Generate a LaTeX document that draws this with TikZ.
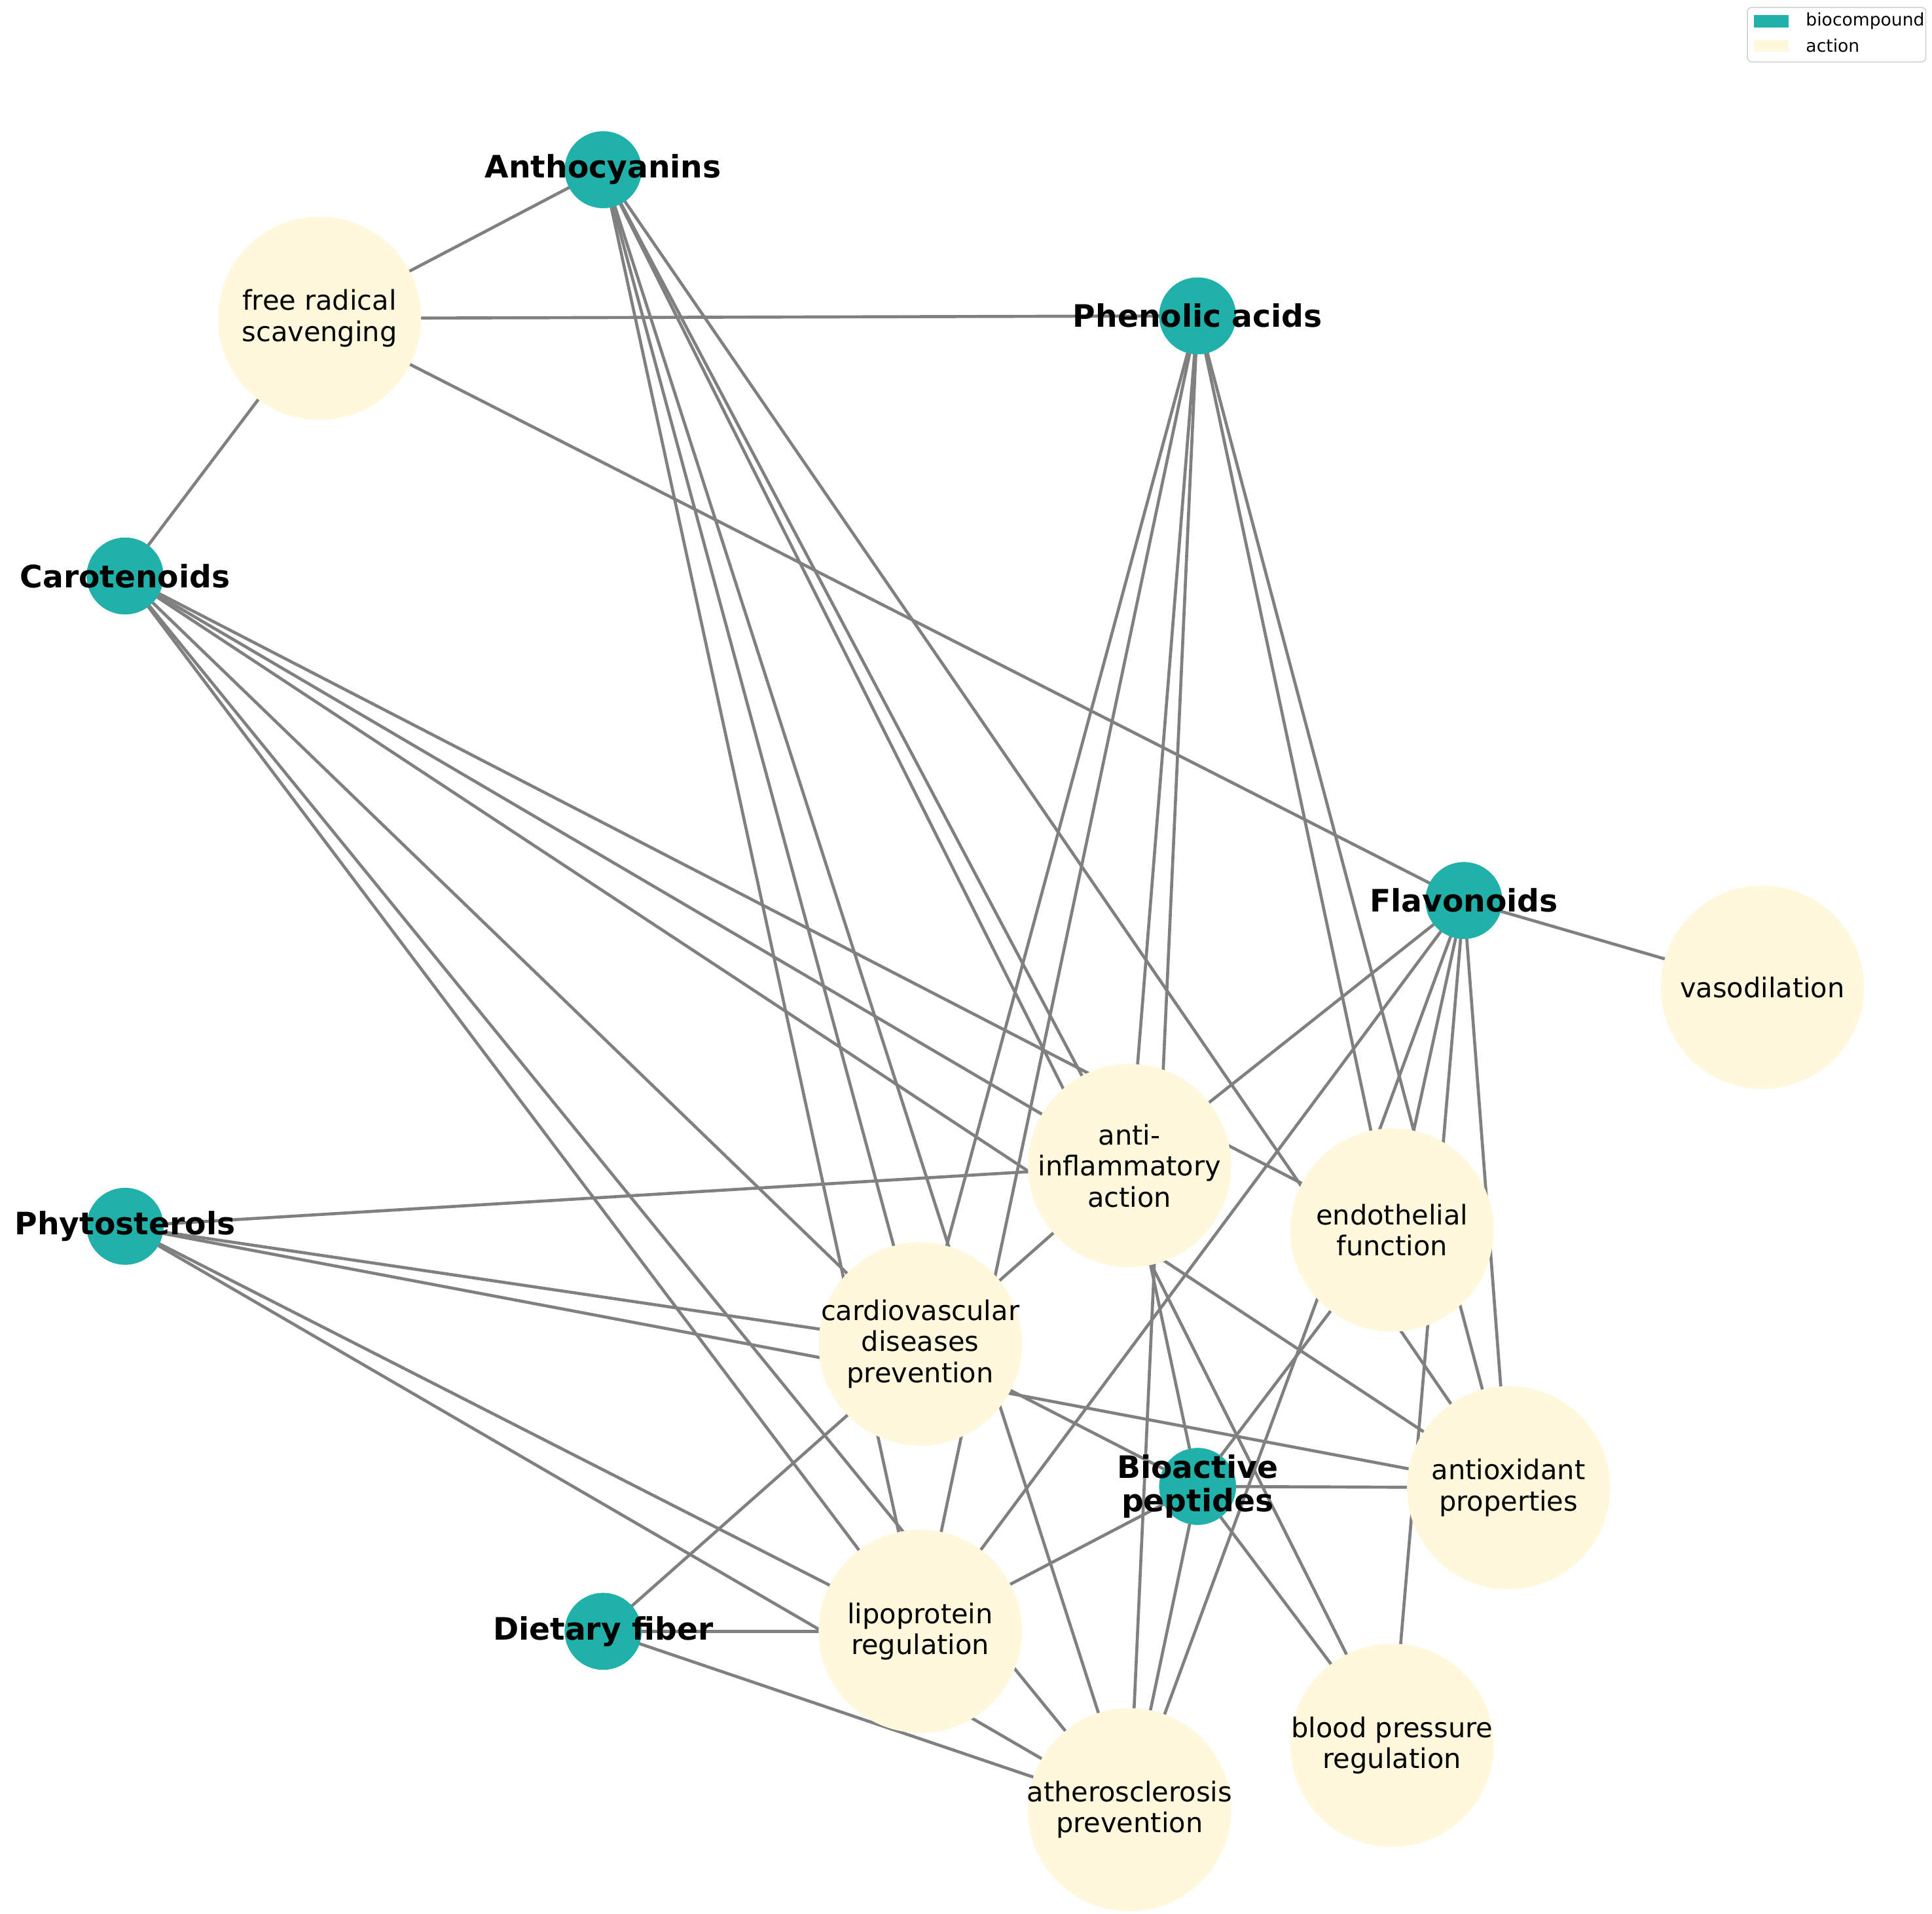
\documentclass[tikz,border=0pt]{standalone}
\usepackage{fontspec}
\setmainfont{DejaVu Sans}
\begin{document}
\begin{tikzpicture}[x=0.02cm,y=-0.02cm,
  comp/.style={circle,fill=teal0,minimum size=1.24cm,inner sep=0pt},
  act/.style={circle,fill=cream0,minimum size=3.28cm,inner sep=0pt},
  clab/.style={font=\fontsize{14.2}{15.5}\selectfont\bfseries,align=center},
  alab/.style={font=\fontsize{12.5}{14.3}\selectfont,align=center},
  edge/.style={draw=gray0,line width=1.4pt}]
\definecolor{teal0}{HTML}{20B2AA}
\definecolor{cream0}{HTML}{FFF8DC}
\definecolor{gray0}{HTML}{808080}
\useasboundingbox (0,0) rectangle (1560,1545);
% compounds
\node[comp] (A) at (487,137) {};
\node[comp] (P) at (967,255) {};
\node[comp] (C) at (101,465) {};
\node[comp] (F) at (1182,727) {};
\node[comp] (S) at (101,990) {};
\node[comp] (B) at (967,1200) {};
\node[comp] (D) at (487,1317) {};
% actions
\node[act] (FR) at (258,257) {};
\node[act] (VA) at (1423,797) {};
\node[act] (AI) at (912,941) {};
\node[act] (EN) at (1124,993) {};
\node[act] (CV) at (743,1085) {};
\node[act] (AO) at (1218,1201) {};
\node[act] (LP) at (743,1317) {};
\node[act] (BP) at (1124,1409) {};
\node[act] (AT) at (912,1461) {};
\foreach \a/\b in {A/FR,A/CV,A/LP,A/AT,A/AI,A/BP,A/AO,
  P/FR,P/AI,P/AT,P/CV,P/LP,P/EN,P/AO,
  C/FR,C/AI,C/EN,C/AO,C/CV,C/LP,C/AT,
  F/FR,F/VA,F/AI,F/EN,F/LP,F/AT,F/BP,F/AO,
  S/AI,S/CV,S/AO,S/LP,S/AT,
  B/AI,B/EN,B/AO,B/LP,B/AT,B/BP,B/CV,
  D/LP,D/AT,D/AI}
  \draw[edge] (\a.center) -- (\b.center);
% redraw nodes on top
\foreach \n in {A,P,C,F,S,B,D} \fill[teal0] (\n) circle (0.62cm);
\foreach \n in {FR,VA,AI,EN,CV,AO,LP,BP,AT} \fill[cream0] (\n) circle (1.64cm);
% labels
\node[clab] at (A) {Anthocyanins};
\node[clab] at (P) {Phenolic acids};
\node[clab] at (C) {Carotenoids};
\node[clab] at (F) {Flavonoids};
\node[clab] at (S) {Phytosterols};
\node[clab] at (B) {Bioactive\\peptides};
\node[clab] at (D) {Dietary fiber};
\node[alab] at (FR) {free radical\\scavenging};
\node[alab] at (VA) {vasodilation};
\node[alab] at (AI) {anti-\\inflammatory\\action};
\node[alab] at (EN) {endothelial\\function};
\node[alab] at (CV) {cardiovascular\\diseases\\prevention};
\node[alab] at (AO) {antioxidant\\properties};
\node[alab] at (LP) {lipoprotein\\regulation};
\node[alab] at (BP) {blood pressure\\regulation};
\node[alab] at (AT) {atherosclerosis\\prevention};
% legend
\draw[draw=black!20,fill=white,rounded corners=2pt] (1411,6) rectangle (1555,50);
\fill[teal0] (1416,12) rectangle (1444,22);
\fill[cream0] (1416,32) rectangle (1444,42);
\node[anchor=west,font=\fontsize{8}{9}\selectfont] (l1) at (1452,17) {biocompound};
\node[anchor=west,font=\fontsize{8}{9}\selectfont] (l2) at (1452,37) {action};
\end{tikzpicture}
\end{document}
